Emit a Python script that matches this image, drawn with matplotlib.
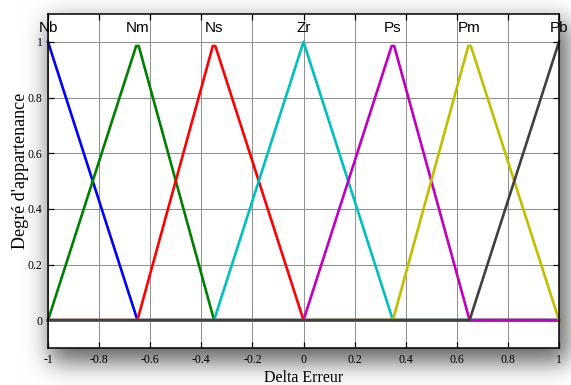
import numpy as np
import matplotlib
matplotlib.use("Agg")
import matplotlib.pyplot as plt

# membership functions (breakpoints)
labels = ["Nb", "Nm", "Ns", "Zr", "Ps", "Pm", "Pb"]
label_x = [-1, -0.65, -0.35, 0, 0.35, 0.65, 1]

nb_x = [-1, -0.65, 1]
nb_y = [1, 0, 0]
nm_x = [-1, -0.655, -0.645, -0.35, 1]
nm_y = [0, 0.985, 0.985, 0, 0]
ns_x = [-1, -0.65, -0.355, -0.345, 0, 1]
ns_y = [0, 0, 0.985, 0.985, 0, 0]
zr_x = [-1, -0.35, 0, 0.35, 1]
zr_y = [0, 0, 1, 0, 0]
ps_x = [-1, 0, 0.345, 0.355, 0.65, 1]
ps_y = [0, 0, 0.985, 0.985, 0, 0]
pm_x = [-1, 0.35, 0.645, 0.655, 1]
pm_y = [0, 0, 0.985, 0.985, 0]
pb_x = [-1, 0.65, 1]
pb_y = [0, 0, 1]

colors = ["#0000ff", "#008000", "#ff0000", "#00bfbf", "#bf00bf", "#bfbf00", "#404040"]

xticks = [-1, -0.8, -0.6, -0.4, -0.2, 0, 0.2, 0.4, 0.6, 0.8, 1]
xticklabels = ["-1", "-0.8", "-0.6", "-0.4", "-0.2", "0", "0.2", "0.4", "0.6", "0.8", "1"]
yticks = [0, 0.2, 0.4, 0.6, 0.8, 1]
yticklabels = ["0", "0.2", "0.4", "0.6", "0.8", "1"]

W, H = 571, 385
fig = plt.figure(figsize=(W / 100, H / 100), dpi=100)
fig.patch.set_facecolor("white")

# drop shadow behind the axes box
mask = np.zeros((H, W))
mask[22:362, 50:568] = 1.0
sig = 12.0
k = np.arange(-3 * sig, 3 * sig + 1)
kern = np.exp(-k ** 2 / (2 * sig ** 2))
kern /= kern.sum()
pad = len(k)
m = np.pad(mask, pad, mode="constant")
m = np.apply_along_axis(lambda r: np.convolve(r, kern, mode="same"), 1, m)
m = np.apply_along_axis(lambda c: np.convolve(c, kern, mode="same"), 0, m)
m = m[pad:-pad, pad:-pad]
shade = 1 - 0.62 * m
img = np.dstack([shade, shade, shade])
fig.figimage(img, xo=0, yo=0, origin="upper", zorder=0)

ax = fig.add_axes([48 / W, 37 / H, 511 / W, 334 / H])
ax.set_facecolor("white")
ax.set_zorder(1)

series = [(nb_x, nb_y), (nm_x, nm_y), (ns_x, ns_y), (zr_x, zr_y),
          (ps_x, ps_y), (pm_x, pm_y), (pb_x, pb_y)]
for (xs, ys), c in zip(series, colors):
    ax.plot(xs, ys, color=c, lw=1.9, solid_joinstyle="round", clip_on=False)

for lab, lx in zip(labels, label_x):
    ax.text(lx, 1.05, lab, ha="center", va="center", fontsize=11,
            family="Liberation Sans")

ax.set_xlim(-1, 1)
ax.set_ylim(-0.1, 1.1)
ax.set_xticks(xticks)
ax.set_xticklabels(xticklabels, family="Liberation Serif", fontsize=8.5)
ax.set_yticks(yticks)
ax.set_yticklabels(yticklabels, family="Liberation Serif", fontsize=8.5)
ax.tick_params(direction="in", top=True, right=True, length=4, width=0.9, pad=4)
ax.grid(True, color="0.55", lw=0.7)
for s in ax.spines.values():
    s.set_linewidth(1.1)

ax.set_xlabel("Delta Erreur", family="Liberation Serif", fontsize=11.5, labelpad=3)
ax.set_ylabel("Degré d'appartenance", family="Liberation Serif", fontsize=13)
ax.yaxis.set_label_coords(-0.037, 0.53)

fig.savefig("out.png", dpi=100)
